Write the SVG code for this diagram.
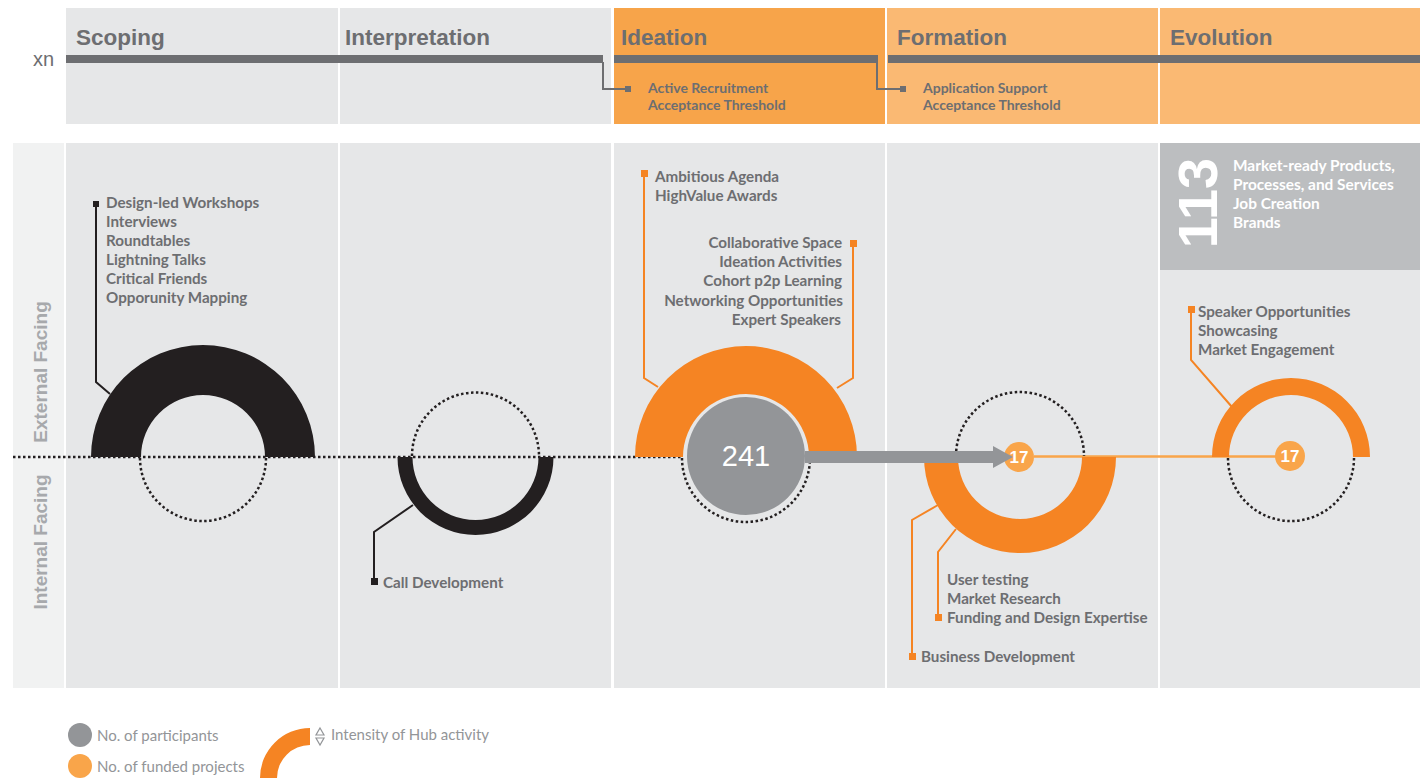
<svg xmlns="http://www.w3.org/2000/svg" width="1420" height="778" viewBox="0 0 1420 778">
<style>
.hd{font-family:"Liberation Sans",Arial,sans-serif;font-weight:bold;font-size:22.5px;fill:#6d6e71}
.sm{font-family:Lato,"Open Sans",sans-serif;font-weight:bold;font-size:14px;fill:#6d6e71}
.tx{font-family:Lato,"Open Sans",sans-serif;font-weight:bold;font-size:15.2px;fill:#6d6e71}
.wt{font-family:Lato,"Open Sans",sans-serif;font-weight:bold;font-size:15.4px;fill:#ffffff}
.side{font-family:"Liberation Sans",Arial,sans-serif;font-weight:bold;font-size:19px;fill:#a7a9ac}
.lg{font-family:Lato,"Open Sans",sans-serif;font-size:15px;fill:#939598}
.dot{fill:none;stroke:#231f20;stroke-width:2.5;stroke-dasharray:2.5 2.5}
.blk{fill:#231f20}
.org{fill:#f58423}
.lo{fill:#f9a54a}
.kline{fill:none;stroke:#231f20;stroke-width:2}
.oline{fill:none;stroke:#f58423;stroke-width:2}
.num{font-family:"Liberation Sans",Arial,sans-serif;font-weight:bold;font-size:17px;fill:#fff}
</style>

<g id="header">
  <rect x="66" y="8" width="272" height="116" fill="#e6e7e8"/>
  <rect x="340" y="8" width="271" height="116" fill="#e6e7e8"/>
  <rect x="614" y="8" width="271" height="116" fill="#f7a44a"/>
  <rect x="887" y="8" width="271" height="116" fill="#fab973"/>
  <rect x="1160" y="8" width="260" height="116" fill="#fab973"/>
  <text class="hd" x="76" y="45">Scoping</text>
  <text class="hd" x="345" y="45">Interpretation</text>
  <text class="hd" x="621" y="45">Ideation</text>
  <text class="hd" x="897" y="45">Formation</text>
  <text class="hd" x="1170" y="45">Evolution</text>
  <text x="33" y="66" font-family="Liberation Sans, Arial, sans-serif" font-size="20" fill="#6d6e71">xn</text>
  <rect x="66" y="55" width="537" height="8" fill="#6d6e71"/>
  <rect x="614" y="55" width="264" height="8" fill="#6d6e71"/>
  <rect x="888" y="55" width="532" height="8" fill="#6d6e71"/>
  <path d="M603 62 V89 H627" fill="none" stroke="#6d6e71" stroke-width="2"/>
  <rect x="625" y="86" width="6" height="6" fill="#6d6e71"/>
  <path d="M877 62 V89 H901" fill="none" stroke="#6d6e71" stroke-width="2"/>
  <rect x="900" y="86" width="6" height="6" fill="#6d6e71"/>
  <text class="sm" x="648" y="93">Active Recruitment</text>
  <text class="sm" x="648" y="110">Acceptance Threshold</text>
  <text class="sm" x="923" y="93">Application Support</text>
  <text class="sm" x="923" y="110">Acceptance Threshold</text>
</g>

<g id="panel">
  <rect x="13" y="143" width="51" height="545" fill="#f1f2f2"/>
  <rect x="66" y="143" width="272" height="545" fill="#e6e7e8"/>
  <rect x="340" y="143" width="271" height="545" fill="#e6e7e8"/>
  <rect x="614" y="143" width="271" height="545" fill="#e6e7e8"/>
  <rect x="887" y="143" width="271" height="545" fill="#e6e7e8"/>
  <rect x="1160" y="143" width="260" height="545" fill="#e6e7e8"/>
  <text class="side" transform="translate(47,372) rotate(-90)" text-anchor="middle">External Facing</text>
  <text class="side" transform="translate(47,542) rotate(-90)" text-anchor="middle">Internal Facing</text>
</g>

<g id="connectors">
  <line x1="13" y1="457" x2="682" y2="457" class="dot"/>
  <path class="kline" d="M110 394 L96 382 V206"/>
  <rect x="93" y="201" width="6" height="6" class="blk"/>
  <path class="kline" d="M413 505 L374 532 V580"/>
  <rect x="371" y="578" width="7" height="7" class="blk"/>
  <path class="oline" d="M658 387 L644 378 V175"/>
  <rect x="641" y="170" width="7" height="7" class="org"/>
  <path class="oline" d="M837 388 L853 378 V245"/>
  <rect x="850" y="240" width="7" height="7" class="org"/>
  <path class="oline" d="M938 505 L912 520 V655"/>
  <rect x="909" y="653" width="7" height="7" class="org"/>
  <path class="oline" d="M956 529 L938 552 V616"/>
  <rect x="935" y="614" width="7" height="7" class="org"/>
  <path class="oline" d="M1232 407 L1191 360 V311"/>
  <rect x="1188" y="306" width="7" height="7" class="org"/>
  <line x1="1034" y1="456.5" x2="1276" y2="456.5" stroke="#f9a54a" stroke-width="2.5"/>
</g>

<g id="scoping">
  <path class="blk" d="M91 457 A112 112 0 0 1 315 457 L265 457 A62 62 0 0 0 141 457 Z"/>
  <path class="dot" d="M140 458 A63 63 0 0 0 266 458"/>
  <text class="tx" x="106" y="208">Design-led Workshops</text>
  <text class="tx" x="106" y="227">Interviews</text>
  <text class="tx" x="106" y="246">Roundtables</text>
  <text class="tx" x="106" y="265">Lightning Talks</text>
  <text class="tx" x="106" y="284">Critical Friends</text>
  <text class="tx" x="106" y="303">Opporunity Mapping</text>
</g>

<g id="interpretation">
  <path class="dot" d="M412 456 A63.5 63.5 0 0 1 539 456"/>
  <path class="blk" d="M397.5 457 A78 78 0 0 0 553.5 457 L538.5 457 A63 63 0 0 1 412.5 457 Z"/>
  <text class="tx" x="383" y="588">Call Development</text>
</g>

<g id="ideation">
  <path class="org" d="M635 457 A111 111 0 0 1 857 457 L809 457 A63 63 0 0 0 683 457 Z"/>
  <path class="dot" d="M682 458 A64 64 0 0 0 810 458"/>
  <circle cx="746" cy="456" r="59" fill="#939598"/>
  <text x="746" y="466" text-anchor="middle" font-family="Liberation Sans, Arial, sans-serif" font-size="29" fill="#fff">241</text>
  <text class="tx" x="655" y="182">Ambitious Agenda</text>
  <text class="tx" x="655" y="201">HighValue Awards</text>
  <g text-anchor="end">
    <text class="tx" x="842" y="248">Collaborative Space</text>
    <text class="tx" x="842" y="267">Ideation Activities</text>
    <text class="tx" x="842" y="286">Cohort p2p Learning</text>
    <text class="tx" x="843" y="306">Networking Opportunities</text>
    <text class="tx" x="841" y="325">Expert Speakers</text>
  </g>
</g>

<g id="formation">
  <path class="dot" d="M956 456 A64 64 0 0 1 1084 456"/>
  <path class="org" d="M924 457 A96 96 0 0 0 1116 457 L1082 457 A62 62 0 0 1 958 457 Z"/>
  <circle cx="1019" cy="457" r="15" class="lo"/>
  <text class="num" x="1019" y="463" text-anchor="middle">17</text>
  <text class="tx" x="947" y="585">User testing</text>
  <text class="tx" x="947" y="604">Market Research</text>
  <text class="tx" x="947" y="623">Funding and Design Expertise</text>
  <text class="tx" x="921" y="662">Business Development</text>
</g>

<g id="arrow">
  <rect x="805" y="451" width="190" height="12" fill="#939598"/>
  <polygon points="993,446 1013,457 993,468" fill="#939598"/>
</g>

<g id="evolution">
  <rect x="1160" y="143" width="260" height="127" fill="#bcbec0"/>
  <text transform="translate(1217,203) rotate(-90)" text-anchor="middle" font-family="Liberation Sans, Arial, sans-serif" font-weight="bold" font-size="56" fill="#fff">113</text>
  <text class="wt" x="1233" y="171">Market-ready Products,</text>
  <text class="wt" x="1233" y="190">Processes, and Services</text>
  <text class="wt" x="1233" y="209">Job Creation</text>
  <text class="wt" x="1233" y="228">Brands</text>
  <path class="org" d="M1212 457 A79 79 0 0 1 1370 457 L1353 457 A62 62 0 0 0 1229 457 Z"/>
  <path class="dot" d="M1228 458 A63 63 0 0 0 1354 458"/>
  <circle cx="1290" cy="456" r="15" class="lo"/>
  <text class="num" x="1290" y="462" text-anchor="middle">17</text>
  <text class="tx" x="1198" y="317">Speaker Opportunities</text>
  <text class="tx" x="1198" y="336">Showcasing</text>
  <text class="tx" x="1198" y="355">Market Engagement</text>
</g>

<g id="legend">
  <circle cx="80" cy="735" r="12" fill="#939598"/>
  <text class="lg" x="97" y="741">No. of participants</text>
  <circle cx="80" cy="766" r="12" class="lo"/>
  <text class="lg" x="97" y="772">No. of funded projects</text>
  <path class="org" d="M260 778 A50 50 0 0 1 310 728 L310 745 A33 33 0 0 0 277 778 Z"/>
  <path d="M320 728 L324 735 H316 Z M316 738 H324 L320 745 Z" fill="none" stroke="#939598" stroke-width="1.2"/>
  <text class="lg" x="331" y="740">Intensity of Hub activity</text>
</g>
</svg>
